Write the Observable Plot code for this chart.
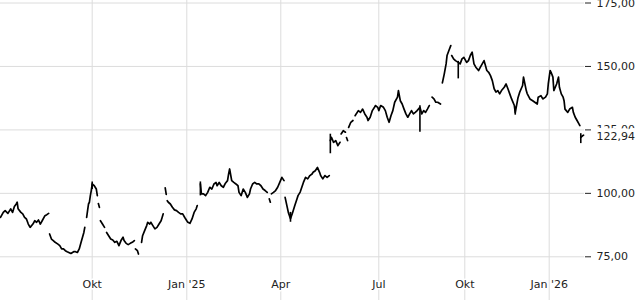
<!DOCTYPE html>
<html><head><meta charset="utf-8">
<script src="https://cdn.jsdelivr.net/npm/d3@7"></script>
<script src="https://cdn.jsdelivr.net/npm/@observablehq/plot@0.6"></script>
<style>html,body{margin:0;padding:0;background:#fff;} #chart svg{display:block}</style>
</head><body><div id="chart"></div>
<script>
// Daily closing prices (null = gap in the drawn line)
const dates = [
"2024-06-24","2024-06-27","2024-06-29","2024-07-02","2024-07-05","2024-07-07","2024-07-09","2024-07-11","2024-07-12","2024-07-13",
"2024-07-16","2024-07-18","2024-07-20","2024-07-22","2024-07-24","2024-07-26","2024-07-29","2024-07-31","2024-08-02","2024-08-04",
"2024-08-06","2024-08-08","2024-08-11","2024-08-13","2024-08-15","2024-08-15",
"2024-08-16","2024-08-18","2024-08-20","2024-08-22","2024-08-25","2024-08-27","2024-08-29","2024-08-31","2024-09-02","2024-09-04",
"2024-09-08","2024-09-11","2024-09-13","2024-09-15","2024-09-17","2024-09-19","2024-09-22","2024-09-23","2024-09-23",
"2024-09-25","2024-09-26","2024-09-27","2024-09-28","2024-09-29","2024-09-30","2024-10-01","2024-10-03","2024-10-05","2024-10-06","2024-10-06",
"2024-10-07","2024-10-08","2024-10-08",
"2024-10-09","2024-10-11","2024-10-13","2024-10-13",
"2024-10-15","2024-10-17","2024-10-19","2024-10-21","2024-10-23","2024-10-25","2024-10-27","2024-10-29","2024-10-31","2024-11-01",
"2024-11-03","2024-11-05","2024-11-07","2024-11-09","2024-11-11","2024-11-11",
"2024-11-12","2024-11-14","2024-11-15","2024-11-15",
"2024-11-18","2024-11-19","2024-11-21","2024-11-23","2024-11-24","2024-11-26","2024-11-27","2024-11-29","2024-12-01","2024-12-03",
"2024-12-05","2024-12-07","2024-12-08","2024-12-09","2024-12-09",
"2024-12-11","2024-12-12","2024-12-12",
"2024-12-13","2024-12-14","2024-12-16","2024-12-18","2024-12-20","2024-12-22","2024-12-24","2024-12-26","2024-12-28","2024-12-30",
"2025-01-01","2025-01-02","2025-01-04","2025-01-06","2025-01-08","2025-01-10","2025-01-11","2025-01-11",
"2025-01-14","2025-01-15","2025-01-17","2025-01-19","2025-01-21","2025-01-23","2025-01-25","2025-01-27","2025-01-29","2025-01-30",
"2025-02-01","2025-02-03","2025-02-05","2025-02-07","2025-02-09","2025-02-10","2025-02-11","2025-02-13","2025-02-15","2025-02-17",
"2025-02-19","2025-02-20","2025-02-22","2025-02-24","2025-02-26","2025-02-28","2025-03-02","2025-03-03","2025-03-05","2025-03-07",
"2025-03-09","2025-03-11","2025-03-13","2025-03-15","2025-03-17","2025-03-19","2025-03-19",
"2025-03-21","2025-03-22","2025-03-22",
"2025-03-23","2025-03-25","2025-03-27","2025-03-29","2025-03-31","2025-04-02","2025-04-04","2025-04-04",
"2025-04-05","2025-04-07","2025-04-08","2025-04-10","2025-04-12","2025-04-14","2025-04-16","2025-04-17","2025-04-19","2025-04-22",
"2025-04-24","2025-04-26","2025-04-28","2025-04-30","2025-05-01","2025-05-03","2025-05-05","2025-05-07","2025-05-08","2025-05-10",
"2025-05-12","2025-05-14","2025-05-16","2025-05-16",
"2025-05-17","2025-05-18","2025-05-20","2025-05-22","2025-05-24","2025-05-26","2025-05-26",
"2025-05-27","2025-05-29","2025-05-31","2025-05-31",
"2025-06-01","2025-06-02","2025-06-02",
"2025-06-03","2025-06-05","2025-06-07","2025-06-07",
"2025-06-09","2025-06-10","2025-06-12","2025-06-14","2025-06-16","2025-06-18","2025-06-20","2025-06-21","2025-06-23","2025-06-25",
"2025-06-27","2025-06-28","2025-06-30","2025-07-01","2025-07-03","2025-07-06","2025-07-08","2025-07-10","2025-07-12","2025-07-14",
"2025-07-16","2025-07-18","2025-07-21","2025-07-22","2025-07-24","2025-07-26","2025-07-28","2025-07-30","2025-08-01","2025-08-03",
"2025-08-05","2025-08-07","2025-08-09","2025-08-11","2025-08-14","2025-08-16","2025-08-18","2025-08-20","2025-08-22","2025-08-24","2025-08-24",
"2025-08-27","2025-08-29","2025-08-31","2025-09-02","2025-09-05","2025-09-05",
"2025-09-07","2025-09-09","2025-09-11","2025-09-12","2025-09-14","2025-09-16","2025-09-16",
"2025-09-17","2025-09-19","2025-09-21","2025-09-24","2025-09-26","2025-09-28","2025-09-30","2025-10-03","2025-10-05","2025-10-07",
"2025-10-09","2025-10-11","2025-10-13","2025-10-16","2025-10-18","2025-10-20","2025-10-22","2025-10-25","2025-10-27","2025-10-29",
"2025-10-31","2025-11-02","2025-11-04","2025-11-06","2025-11-08","2025-11-10","2025-11-13","2025-11-15","2025-11-17","2025-11-19",
"2025-11-21","2025-11-24","2025-11-25","2025-11-28","2025-11-30","2025-12-03","2025-12-04","2025-12-07","2025-12-08","2025-12-11",
"2025-12-14","2025-12-19","2025-12-20","2025-12-23","2025-12-25","2025-12-28","2025-12-30","2025-12-31","2026-01-02","2026-01-03",
"2026-01-05","2026-01-06","2026-01-09","2026-01-11","2026-01-12","2026-01-14","2026-01-16","2026-01-17","2026-01-18","2026-01-21",
"2026-01-23","2026-01-26","2026-01-27","2026-01-29","2026-01-31","2026-02-02","2026-02-03","2026-02-03",
"2026-02-04","2026-02-06","2026-02-07"
];
const closes = [
90.5,92.5,93.2,92.1,93.9,92.5,94.8,95.8,96.5,93.9,
92.5,91.9,90.5,89.9,87.9,86.6,87.9,89.2,88.6,89.5,
87.9,89.2,91.2,91.6,92.1,null,
84.0,82.0,81.4,80.7,80.0,79.4,78.1,78.1,77.4,77.0,
76.3,77.0,77.0,76.7,78.1,80.7,84.6,86.6,null,
90.5,93.2,95.8,96.5,99.1,101.1,103.7,103.0,101.7,99.1,null,
96.0,94.5,null,
89.2,87.9,86.6,null,
84.6,83.3,82.0,81.6,80.7,81.1,79.4,81.4,82.7,81.4,
80.3,79.8,80.3,80.7,81.4,null,
78.1,77.4,76.1,null,
80.7,83.3,85.3,87.3,88.6,87.9,88.6,87.3,86.0,86.6,
87.9,89.2,90.5,91.9,null,
102.2,99.6,null,
97.1,96.5,95.8,94.5,93.5,93.2,92.5,91.9,91.9,90.5,
89.2,88.6,88.2,89.9,92.5,93.9,95.2,null,
103.7,99.8,99.8,99.1,100.4,102.4,101.7,103.7,104.3,103.0,
104.3,103.0,102.4,104.0,105.0,107.6,109.6,105.0,104.3,103.7,
103.0,100.4,99.1,101.7,100.4,98.4,99.8,101.7,103.7,104.3,
103.7,103.7,103.0,101.7,101.1,100.4,null,
97.8,96.5,null,
99.8,100.4,101.1,102.4,104.3,106.3,105.0,null,
98.4,94.5,92.5,90.0,92.5,95.2,97.8,99.1,100.5,104.3,
106.3,105.7,107.0,107.6,108.3,108.9,110.2,108.3,107.0,105.7,
107.0,106.3,107.0,null,
120.8,122.1,120.1,120.8,118.8,120.1,null,
123.4,124.7,124.1,null,
122.0,120.8,null,
126.0,128.0,128.7,null,
130.6,131.3,132.6,131.9,133.2,131.3,130.0,128.7,130.0,132.6,
133.9,134.6,133.9,132.6,134.6,133.9,132.6,130.0,128.0,130.6,
132.6,135.9,137.9,140.5,136.5,135.2,133.2,131.3,130.0,131.3,
132.6,131.3,131.9,132.6,133.9,131.3,132.6,131.9,133.2,134.6,null,
137.9,137.2,135.9,135.9,135.2,null,
143.5,147.0,151.0,154.3,156.3,158.2,null,
154.3,153.0,152.3,151.6,151.0,153.0,153.6,151.6,152.3,154.3,
155.6,151.0,149.7,148.4,149.7,151.0,152.3,148.4,147.7,146.4,
144.4,141.2,139.9,140.5,139.2,140.5,141.8,143.1,141.2,139.2,
137.2,134.6,131.8,137.7,140.0,142.5,145.8,140.5,139.3,137.2,
136.5,135.2,137.9,138.5,137.2,137.9,139.2,143.1,148.4,147.7,
145.8,140.5,143.1,145.8,141.8,139.2,137.9,136.5,133.2,131.9,
133.2,133.9,131.9,130.0,128.7,127.4,126.7,null,
122.1,122.7,122.94
];
// Intraday high/low spikes visible in the chart
const spikeDates = ["2024-10-01","2025-01-14","2025-04-10","2025-05-17","2025-08-14","2025-09-24","2025-11-25","2026-02-04"];
const spikeLows  = [101.5, 99.0, 88.6, 115.6, 124.1, 145.1, 130.8, 119.6];
const spikeHighs = [104.5, 104.5, 92.5, 123.3, 134.5, 152.0, 134.0, 123.5];

const yTicks = [75, 100, 125, 150, 175];
const monthTicks = ["2024-10-01","2025-01-01","2025-04-01","2025-07-01","2025-10-01","2026-01-01"];
const monthLabels = ["Okt","Jan '25","Apr","Jul","Okt","Jan '26"];
const lastPrice = 122.94;
// Date anchors of the (unevenly spaced) time axis
const xAnchorDates = ["2024-06-24","2024-10-01","2025-01-01","2025-04-01","2025-07-01","2025-10-01","2026-01-01","2026-02-08"];

const parse = d3.utcParse("%Y-%m-%d");
const de = d3.formatLocale({decimal: ",", thousands: ".", grouping: [3], currency: ["", " €"]});
const fmt = de.format(".2f");

const data = dates.map((d, i) => ({date: parse(d), close: closes[i]}));
const spikes = spikeDates.map((d, i) => ({date: parse(d), low: spikeLows[i], high: spikeHighs[i]}));
const months = monthTicks.map(parse);

const chart = Plot.plot({
  width: 640, height: 300,
  marginLeft: 0, marginRight: 56, marginTop: 0, marginBottom: 0,
  style: {fontFamily: "DejaVu Sans", fontSize: "11px", color: "#222", background: "#fff"},
  x: {type: "utc", domain: xAnchorDates.map(parse), range: [0, 91.7, 186.3, 280.3, 378.3, 464.3, 548.7, 584], axis: null},
  y: {domain: [75, 175], range: [256.3, 2.5], axis: null},
  marks: [
    Plot.gridX(months, {stroke: "#dcdcdc", strokeOpacity: 1}),
    Plot.gridY(yTicks, {stroke: "#dcdcdc", strokeOpacity: 1}),
    Plot.line(data, {x: "date", y: "close", stroke: "#000", strokeWidth: 1.7}),
    Plot.ruleX(spikes, {x: "date", y1: "low", y2: "high", stroke: "#000", strokeWidth: 1.6}),
    Plot.text(months, {x: d => d, text: (d, i) => monthLabels[i], frameAnchor: "bottom", dy: -13, fill: "#222", stroke: "#fff", strokeWidth: 3}),
    Plot.axisY(yTicks, {anchor: "right", tickFormat: fmt, tickSize: 6, tickPadding: 6, label: null}),
    Plot.text([lastPrice], {y: d => d, text: d => fmt(d), frameAnchor: "right", textAnchor: "start", dx: 12, dy: 1.5, fill: "#222", stroke: "#fff", strokeWidth: 8})
  ]
});
document.getElementById("chart").append(chart);
</script>
</body></html>
